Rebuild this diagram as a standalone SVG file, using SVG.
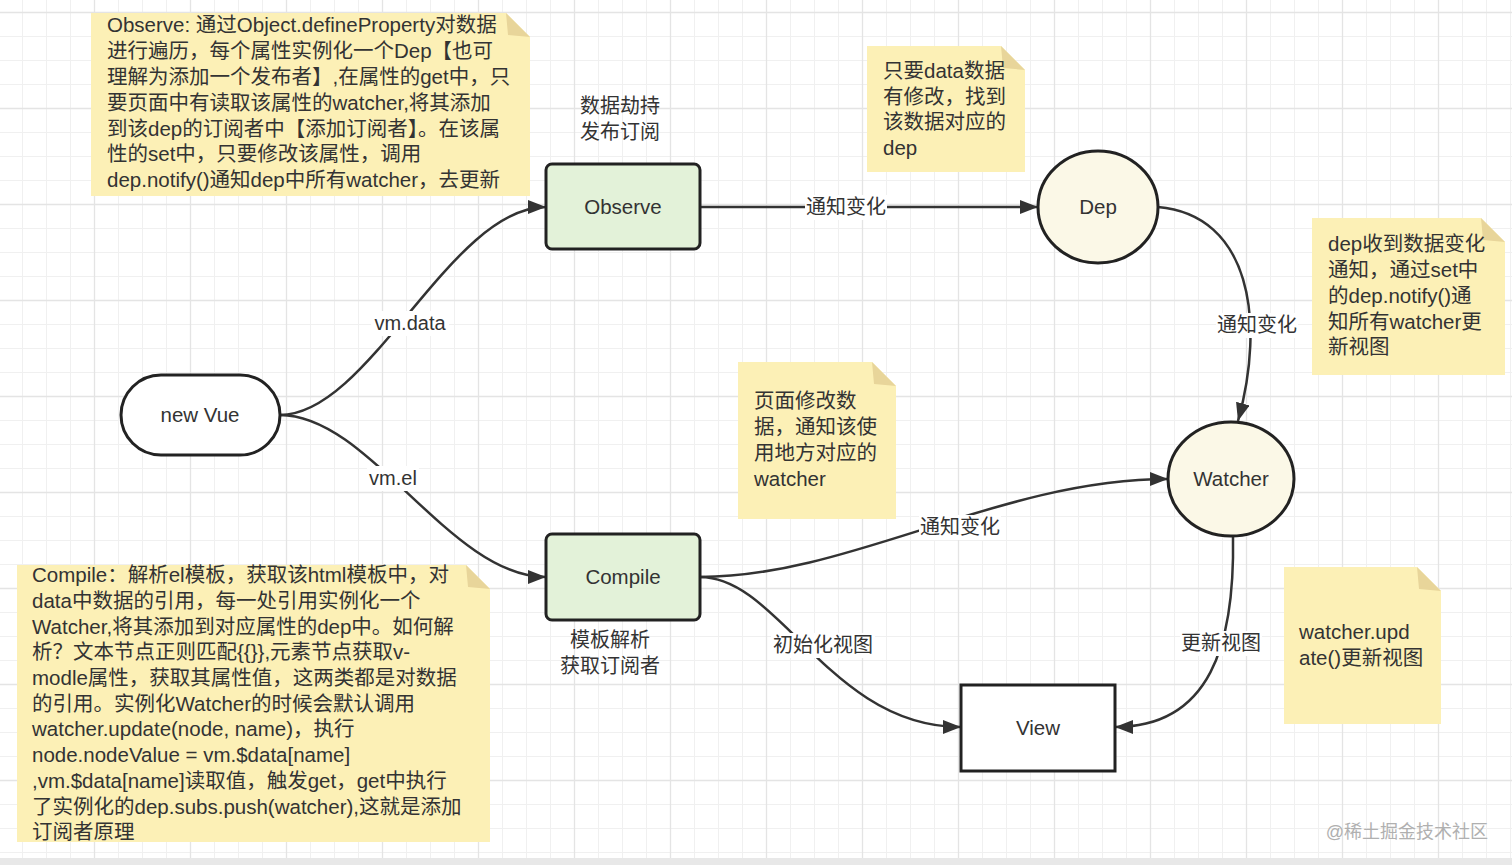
<svg xmlns="http://www.w3.org/2000/svg" width="1512" height="865" viewBox="0 0 1512 865">
<style>
text{font-family:"Liberation Sans","Noto Sans CJK SC",sans-serif;fill:#333}
.note{fill:#fcf0b6}
.fold{fill:#e8d59a}
.nt{font-size:20.5px}
.node{stroke:#222;stroke-width:3}
.nl{font-size:20.5px;text-anchor:middle}
.edge{fill:none;stroke:#333;stroke-width:2.5}
.lbg{fill:#fff}
.el{font-size:20px;text-anchor:middle}
.cap{font-size:20px;text-anchor:middle}
</style>
<defs>
<pattern id="grid" x="0" y="0" width="96" height="96" patternUnits="userSpaceOnUse">
<g stroke="#f0f0f0" stroke-width="1">
<line x1="22.5" y1="0" x2="22.5" y2="96"/><line x1="46.5" y1="0" x2="46.5" y2="96"/><line x1="70.5" y1="0" x2="70.5" y2="96"/>
<line x1="0" y1="36.5" x2="96" y2="36.5"/><line x1="0" y1="60.5" x2="96" y2="60.5"/><line x1="0" y1="84.5" x2="96" y2="84.5"/>
</g>
<g stroke="#e4e4e4" stroke-width="1.3">
<line x1="94.5" y1="0" x2="94.5" y2="96"/><line x1="0" y1="12.5" x2="96" y2="12.5"/>
</g>
</pattern>
<marker id="arr" markerUnits="userSpaceOnUse" markerWidth="19" markerHeight="15" refX="18" refY="7" orient="auto">
<path d="M0,0 L18,7 L0,14 Z" fill="#333"/>
</marker>
</defs>
<g id="background">
<rect x="0" y="0" width="1512" height="865" fill="#fff"/>
<rect x="0" y="0" width="1512" height="858" fill="url(#grid)"/>
<rect x="0" y="858" width="1512" height="7" fill="#e8e8e8"/>
</g>

<g id="note-observe">
<path class="note" d="M91,13 L506,13 L530,37 L530,196 L91,196 Z"/>
<path class="fold" d="M506,13 L530,37 L508,35 Z"/>
<text class="nt" x="107" y="32">Observe: 通过Object.defineProperty对数据</text>
<text class="nt" x="107" y="58">进行遍历，每个属性实例化一个Dep【也可</text>
<text class="nt" x="107" y="84">理解为添加一个发布者】,在属性的get中，只</text>
<text class="nt" x="107" y="110">要页面中有读取该属性的watcher,将其添加</text>
<text class="nt" x="107" y="136">到该dep的订阅者中【添加订阅者】。在该属</text>
<text class="nt" x="107" y="161">性的set中，只要修改该属性，调用</text>
<text class="nt" x="107" y="187">dep.notify()通知dep中所有watcher，去更新</text>
</g>

<g id="note-compile">
<path class="note" d="M17,565 L466,565 L490,589 L490,842 L17,842 Z"/>
<path class="fold" d="M466,565 L490,589 L468,587 Z"/>
<text class="nt" x="32" y="582">Compile：解析el模板，获取该html模板中，对</text>
<text class="nt" x="32" y="608">data中数据的引用，每一处引用实例化一个</text>
<text class="nt" x="32" y="634">Watcher,将其添加到对应属性的dep中。如何解</text>
<text class="nt" x="32" y="659">析？文本节点正则匹配{{}},元素节点获取v-</text>
<text class="nt" x="32" y="685">modle属性，获取其属性值，这两类都是对数据</text>
<text class="nt" x="32" y="711">的引用。实例化Watcher的时候会默认调用</text>
<text class="nt" x="32" y="736">watcher.update(node, name)，执行</text>
<text class="nt" x="32" y="762">node.nodeValue = vm.$data[name]</text>
<text class="nt" x="32" y="788">,vm.$data[name]读取值，触发get，get中执行</text>
<text class="nt" x="32" y="814">了实例化的dep.subs.push(watcher),这就是添加</text>
<text class="nt" x="32" y="839">订阅者原理</text>
</g>

<g id="note-dep">
<path class="note" d="M867,46 L1001,46 L1025,70 L1025,172 L867,172 Z"/>
<path class="fold" d="M1001,46 L1025,70 L1003,68 Z"/>
<text class="nt" x="883" y="78">只要data数据</text>
<text class="nt" x="883" y="104">有修改，找到</text>
<text class="nt" x="883" y="129">该数据对应的</text>
<text class="nt" x="883" y="155">dep</text>
</g>

<g id="note-notify">
<path class="note" d="M1312,218 L1481,218 L1505,242 L1505,375 L1312,375 Z"/>
<path class="fold" d="M1481,218 L1505,242 L1483,240 Z"/>
<text class="nt" x="1328" y="251">dep收到数据变化</text>
<text class="nt" x="1328" y="277">通知，通过set中</text>
<text class="nt" x="1328" y="303">的dep.notify()通</text>
<text class="nt" x="1328" y="329">知所有watcher更</text>
<text class="nt" x="1328" y="354">新视图</text>
</g>

<g id="note-page">
<path class="note" d="M738,362 L872,362 L896,386 L896,519 L738,519 Z"/>
<path class="fold" d="M872,362 L896,386 L874,384 Z"/>
<text class="nt" x="754" y="408">页面修改数</text>
<text class="nt" x="754" y="434">据，通知该使</text>
<text class="nt" x="754" y="460">用地方对应的</text>
<text class="nt" x="754" y="486">watcher</text>
</g>

<g id="note-update">
<path class="note" d="M1284,567 L1417,567 L1441,591 L1441,724 L1284,724 Z"/>
<path class="fold" d="M1417,567 L1441,591 L1419,589 Z"/>
<text class="nt" x="1299" y="639">watcher.upd</text>
<text class="nt" x="1299" y="665">ate()更新视图</text>
</g>

<g id="connectors">
<path class="edge" marker-end="url(#arr)" d="M280,415 C370,415 450,207 546,207"/>
<path class="edge" marker-end="url(#arr)" d="M280,415 C370,415 450,577 546,577"/>
<path class="edge" marker-end="url(#arr)" d="M700,207 L1038,207"/>
<path class="edge" marker-end="url(#arr)" d="M1158,207 C1250,215 1266,320 1238,421"/>
<path class="edge" marker-end="url(#arr)" d="M700,577 C850,577 1000,479 1168,479"/>
<path class="edge" marker-end="url(#arr)" d="M700,577 C780,577 830,727 961,727"/>
<path class="edge" marker-end="url(#arr)" d="M1233,536 C1235,645 1210,727 1115,727"/>
<rect class="lbg" x="371" y="311" width="78" height="25"/>
<text class="el" x="410" y="330">vm.data</text>
<rect class="lbg" x="367" y="466" width="52" height="25"/>
<text class="el" x="393" y="485">vm.el</text>
<rect class="lbg" x="805" y="195" width="82" height="25"/>
<text class="el" x="846" y="214">通知变化</text>
<rect class="lbg" x="1216" y="313" width="82" height="25"/>
<text class="el" x="1257" y="332">通知变化</text>
<rect class="lbg" x="919" y="515" width="82" height="25"/>
<text class="el" x="960" y="534">通知变化</text>
<rect class="lbg" x="771" y="633" width="104" height="25"/>
<text class="el" x="823" y="652">初始化视图</text>
<rect class="lbg" x="1180" y="631" width="82" height="25"/>
<text class="el" x="1221" y="650">更新视图</text>
</g>

<g id="node-newvue">
<rect class="node" x="121" y="375" width="159" height="80" rx="40" fill="#fff"/>
<text class="nl" x="200" y="422">new Vue</text>
</g>
<g id="node-observe">
<rect class="node" x="546" y="164" width="154" height="85" rx="6" fill="#e3f2d9"/>
<text class="nl" x="623" y="214">Observe</text>
<text class="cap" x="620" y="113">数据劫持</text>
<text class="cap" x="620" y="139">发布订阅</text>
</g>
<g id="node-compile">
<rect class="node" x="546" y="534" width="154" height="86" rx="6" fill="#e3f2d9"/>
<text class="nl" x="623" y="584">Compile</text>
<text class="cap" x="610" y="647">模板解析</text>
<text class="cap" x="610" y="673">获取订阅者</text>
</g>
<g id="node-dep">
<ellipse class="node" cx="1098" cy="207" rx="60" ry="56" fill="#fbf8e7"/>
<text class="nl" x="1098" y="214">Dep</text>
</g>
<g id="node-watcher">
<ellipse class="node" cx="1231" cy="479" rx="63" ry="57" fill="#fbf8e7"/>
<text class="nl" x="1231" y="486">Watcher</text>
</g>
<g id="node-view">
<rect class="node" x="961" y="685" width="154" height="86" fill="#fff"/>
<text class="nl" x="1038" y="735">View</text>
</g>

<g id="watermark">
<text x="1488" y="838" style="font-size:18px;fill:#b0b0b0;text-anchor:end">@稀土掘金技术社区</text>
</g>
</svg>
